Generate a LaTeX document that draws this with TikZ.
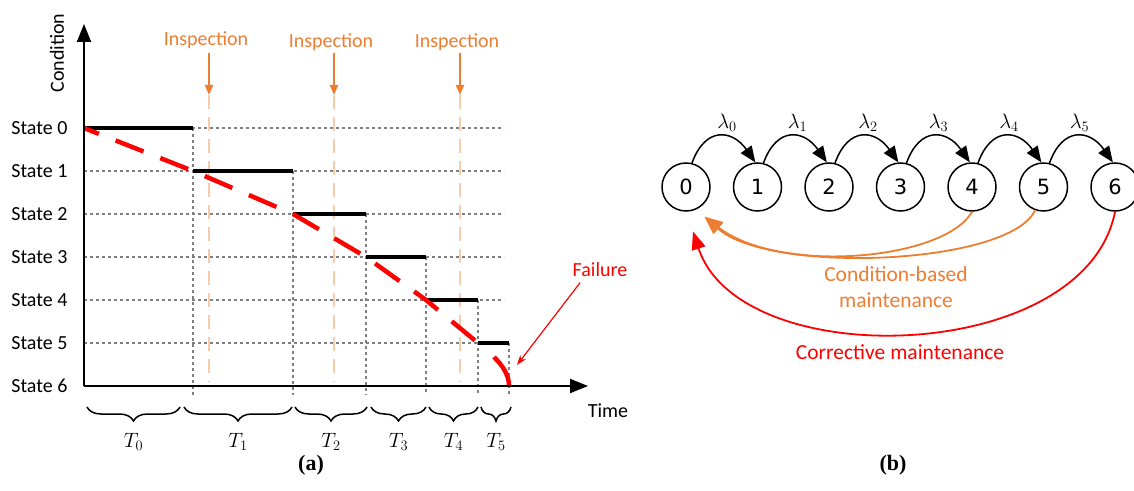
\documentclass[tikz,border=0pt]{standalone}
\usepackage{fontspec}
\setmainfont{Carlito}
\newfontfamily\digitfont{DejaVu Sans}
\newfontfamily\capfont{Liberation Serif}
\usetikzlibrary{arrows.meta,decorations.pathreplacing,calc}

\definecolor{inspOrange}{RGB}{237,125,49}
\definecolor{inspLight}{RGB}{248,203,173}
\definecolor{failRed}{RGB}{255,0,0}

\tikzset{
  every node/.style={font=\fontsize{20}{24}\selectfont},
  axis/.style={line width=2pt, -{Triangle[length=18pt,width=14pt]}},
  gridline/.style={gray, line width=1.3pt, dash pattern=on 3pt off 3pt},
  stepline/.style={black, line width=3.2pt},
  degrade/.style={failRed, line width=4.5pt, dash pattern=on 30pt off 18pt, dash phase=14pt},
  inspline/.style={inspLight, line width=2pt, dash pattern=on 14pt off 8pt},
  insparrow/.style={inspOrange, line width=2pt, -{Triangle[length=10pt,width=8pt]}},
  tbrace/.style={decorate, decoration={brace, mirror, amplitude=14pt}, line width=1.5pt},
  statelbl/.style={anchor=east},
  markov/.style={circle, draw, line width=1.5pt, minimum size=48pt, inner sep=0pt,
    font=\digitfont\fontsize{21}{24}\selectfont},
  rate/.style={line width=1.5pt, -{Triangle[length=16pt,width=13pt]}},
  cbm/.style={inspOrange, line width=1.8pt, -{Triangle[length=18pt,width=14pt]}},
  corr/.style={failRed, line width=1.8pt, -{Triangle[length=18pt,width=14pt]}},
  sublbl/.style={font=\capfont\fontsize{22}{26}\selectfont\bfseries}
}

\begin{document}
\begin{tikzpicture}[x=1pt, y=1pt]
    \useasboundingbox (0,0) rectangle (1134,490);

    % (a) degradation over time
    \foreach \y in {362,319,276,233,190,147}
        \draw[gridline] (84,\y) -- (504,\y);
    \foreach \x/\y in {193/362,293/319,366/276,426/233,478/190,509/147}
        \draw[gridline] (\x,\y) -- (\x,95);

    \foreach \x/\y in {209/450,334/448,460/448} {
        \draw[inspline] (\x,395) -- (\x,108);
        \draw[insparrow] (\x,437) -- (\x,395);
        \node[inspOrange] at ({\x-3},\y) {Inspection};
    }

    \foreach \a/\b/\y in {84/193/362,193/293/319,293/366/276,366/426/233,426/478/190,478/509/147}
        \draw[stepline] (\a,\y) -- (\b,\y);

    \draw[degrade] (84,362) -- (193,319) -- (293,276) -- (366,233) -- (426,190) -- (478,147);
    \draw[failRed, line width=4.5pt] (494,133) .. controls (503,124) and (509,115) .. (509,104);

    \draw[axis] (84,104) -- (84,466);
    \draw[axis] (84,104) -- (588,104);

    \node[rotate=90] (cond) at (57,437) {Condition};
    \foreach \i/\y in {0/362,1/319,2/276,3/233,4/190,5/147,6/104}
        \node[statelbl] (st\i) at (71,\y) {State \i};
    \node (time) at (608,79) {Time};

    \node[failRed] (fail) at (600,220) {Failure};
    \coordinate (failtip) at (517,125);
    \draw[failRed, line width=1.2pt, -{Stealth[length=10pt,width=7pt]}] ($(fail.south west)+(11,-2)$) -- (failtip);

    \foreach \a/\b/\i in {87/180/0,184/292/1,295/367/2,371/426/3,429/478/4,481/511/5} {
        \draw[tbrace] (\a,83) -- (\b,83);
        \node (T\i) at ({(\a+\b)/2},48) {$T_\i$};
    }
    \node[sublbl] (suba) at (311,25) {(a)};

    % (b) Markov chain of states
    \foreach \i in {0,...,6}
        \node[markov] (s\i) at ({686+71.5*\i},303) {\i};
    \foreach \i [evaluate=\i as \j using int(\i+1)] in {0,...,5} {
        \draw[rate] (s\i.76) to[out=70, in=125, looseness=1.6] (s\j.95);
        \node (lam\i) at ({727+70.5*\i},367) {$\lambda_\i$};
    }

    \coordinate (cbmtip) at ($(s0)+(-58:35)$);
    \coordinate (corrtip) at ($(s0)+(-81:45)$);
    \draw[cbm] (s4.south) .. controls (945,230) and (780,215) .. (cbmtip);
    \draw[cbm] (s5.-110) .. controls (1010,225) and (770,215) .. (cbmtip);
    \draw[corr] (s6.south) .. controls (1085,125) and (740,115) .. (corrtip);

    \node[inspOrange, align=center, font=\fontsize{21.5}{26}\selectfont] (cbmtxt) at (896,203) {Condition-based\\maintenance};
    \node[failRed, font=\fontsize{21.5}{26}\selectfont] (corrtxt) at (900,138) {Corrective maintenance};
    \node[sublbl] (subb) at (893,25) {(b)};
\end{tikzpicture}
\end{document}
